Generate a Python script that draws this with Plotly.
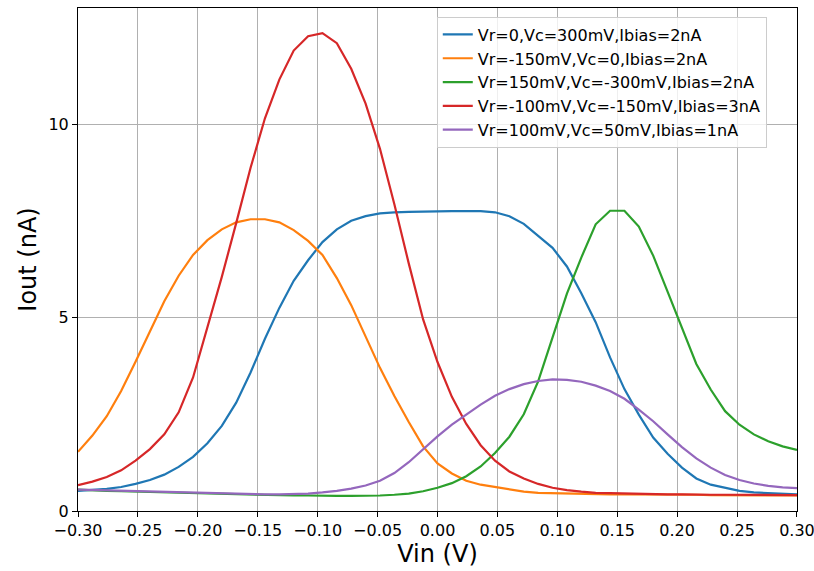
import numpy as np
import plotly.graph_objects as go

# Input sweep: 51 points from -0.3 V to 0.3 V
vin = np.linspace(-0.3, 0.3, 51)

iout_vr0_vc300 = [
    0.52, 0.54, 0.57, 0.62, 0.70, 0.80, 0.94, 1.14, 1.40, 1.75,
    2.20, 2.80, 3.58, 4.45, 5.25, 5.95, 6.48, 6.95, 7.28, 7.50,
    7.62, 7.69, 7.72, 7.73, 7.74, 7.74, 7.75, 7.75, 7.75, 7.72,
    7.62, 7.42, 7.10, 6.80, 6.32, 5.63, 4.88, 3.97, 3.15, 2.49,
    1.90, 1.48, 1.12, 0.84, 0.68, 0.60, 0.52, 0.48, 0.46, 0.44,
    0.43,
]
iout_vrm150_vc0 = [
    1.53, 1.95, 2.45, 3.10, 3.86, 4.65, 5.42, 6.08, 6.62, 7.00,
    7.28, 7.46, 7.54, 7.54, 7.46, 7.26, 6.98, 6.62, 6.02, 5.32,
    4.52, 3.70, 2.97, 2.30, 1.67, 1.23, 0.97, 0.78, 0.68, 0.62,
    0.55, 0.50, 0.47, 0.46, 0.45, 0.44, 0.44, 0.43, 0.43, 0.43,
    0.42, 0.42, 0.42, 0.42, 0.41, 0.41, 0.41, 0.41, 0.40, 0.40,
    0.40,
]
iout_vr150_vcm300 = [
    0.55, 0.53, 0.52, 0.51, 0.50, 0.49, 0.48, 0.47, 0.46, 0.45,
    0.44, 0.43, 0.42, 0.41, 0.41, 0.40, 0.40, 0.39, 0.39, 0.39,
    0.39, 0.40, 0.42, 0.45, 0.51, 0.60, 0.72, 0.90, 1.15, 1.50,
    1.92, 2.50, 3.35, 4.50, 5.62, 6.55, 7.41, 7.76, 7.76, 7.35,
    6.60, 5.67, 4.72, 3.80, 3.14, 2.58, 2.23, 1.98, 1.80, 1.67,
    1.58,
]
iout_vrm100_vcm150 = [
    0.67, 0.76, 0.88, 1.05, 1.30, 1.60, 1.98, 2.55, 3.45, 4.72,
    6.05, 7.44, 8.87, 10.15, 11.15, 11.90, 12.27, 12.35, 12.09, 11.43,
    10.53, 9.36, 7.93, 6.40, 4.95, 3.85, 2.95, 2.25, 1.70, 1.30,
    1.02, 0.84, 0.70, 0.60, 0.54, 0.50, 0.47, 0.46, 0.45, 0.44,
    0.43, 0.43, 0.43, 0.42, 0.42, 0.42, 0.42, 0.41, 0.41, 0.41,
    0.41,
]
iout_vr100_vc50 = [
    0.55, 0.54, 0.53, 0.52, 0.51, 0.50, 0.49, 0.48, 0.47, 0.46,
    0.45, 0.44, 0.44, 0.43, 0.43, 0.44, 0.45, 0.48, 0.52, 0.58,
    0.66, 0.78, 0.98, 1.26, 1.60, 1.93, 2.23, 2.50, 2.75, 2.98,
    3.15, 3.28, 3.36, 3.40, 3.39, 3.34, 3.24, 3.10, 2.90, 2.62,
    2.32, 1.98, 1.65, 1.36, 1.12, 0.93, 0.80, 0.71, 0.65, 0.61,
    0.59,
]

series_labels = [
    "Vr=0,Vc=300mV,Ibias=2nA",
    "Vr=-150mV,Vc=0,Ibias=2nA",
    "Vr=150mV,Vc=-300mV,Ibias=2nA",
    "Vr=-100mV,Vc=-150mV,Ibias=3nA",
    "Vr=100mV,Vc=50mV,Ibias=1nA",
]
series_values = [
    iout_vr0_vc300,
    iout_vrm150_vc0,
    iout_vr150_vcm300,
    iout_vrm100_vcm150,
    iout_vr100_vc50,
]
colors = ["#1f77b4", "#ff7f0e", "#2ca02c", "#d62728", "#9467bd"]

x_tick_vals = [-0.30, -0.25, -0.20, -0.15, -0.10, -0.05, 0.00, 0.05, 0.10, 0.15, 0.20, 0.25, 0.30]
x_tick_text = ["\u22120.30", "\u22120.25", "\u22120.20", "\u22120.15", "\u22120.10", "\u22120.05",
               "0.00", "0.05", "0.10", "0.15", "0.20", "0.25", "0.30"]
y_tick_vals = [0, 5, 10]

FONT = "DejaVu Sans"

fig = go.Figure()
for label, vals, col in zip(series_labels, series_values, colors):
    fig.add_trace(go.Scatter(
        x=vin, y=vals, mode="lines", name=label,
        line=dict(color=col, width=2.2),
    ))

axis_common = dict(
    showline=True, linecolor="black", linewidth=1, mirror=True,
    ticks="outside", ticklen=5, tickwidth=1, tickcolor="black",
    showgrid=True, gridcolor="#b0b0b0", gridwidth=1,
    zeroline=False,
    tickfont=dict(family=FONT, size=16, color="black"),
    ticklabeloverflow="allow",
)

fig.update_xaxes(
    range=[-0.30001, 0.30001], tickvals=x_tick_vals, ticktext=x_tick_text,
    title=dict(text="Vin (V)", font=dict(family=FONT, size=24, color="black"), standoff=2),
    **axis_common,
)
fig.update_yaxes(
    range=[0, 13.0], tickvals=y_tick_vals,
    title=dict(text="Iout (nA)", font=dict(family=FONT, size=24, color="black"), standoff=5),
    **axis_common,
)

fig.update_layout(
    width=814, height=571,
    margin=dict(l=78, r=17, t=8, b=60, autoexpand=False),
    paper_bgcolor="white", plot_bgcolor="white",
    font=dict(family=FONT, color="black"),
    legend=dict(
        x=0.499, y=0.983, xanchor="left", yanchor="top",
        bgcolor="rgba(255,255,255,0.8)", bordercolor="#cccccc", borderwidth=1,
        font=dict(family=FONT, size=16, color="black"),
        tracegroupgap=0,
    ),
)

fig.write_html("out.html")
